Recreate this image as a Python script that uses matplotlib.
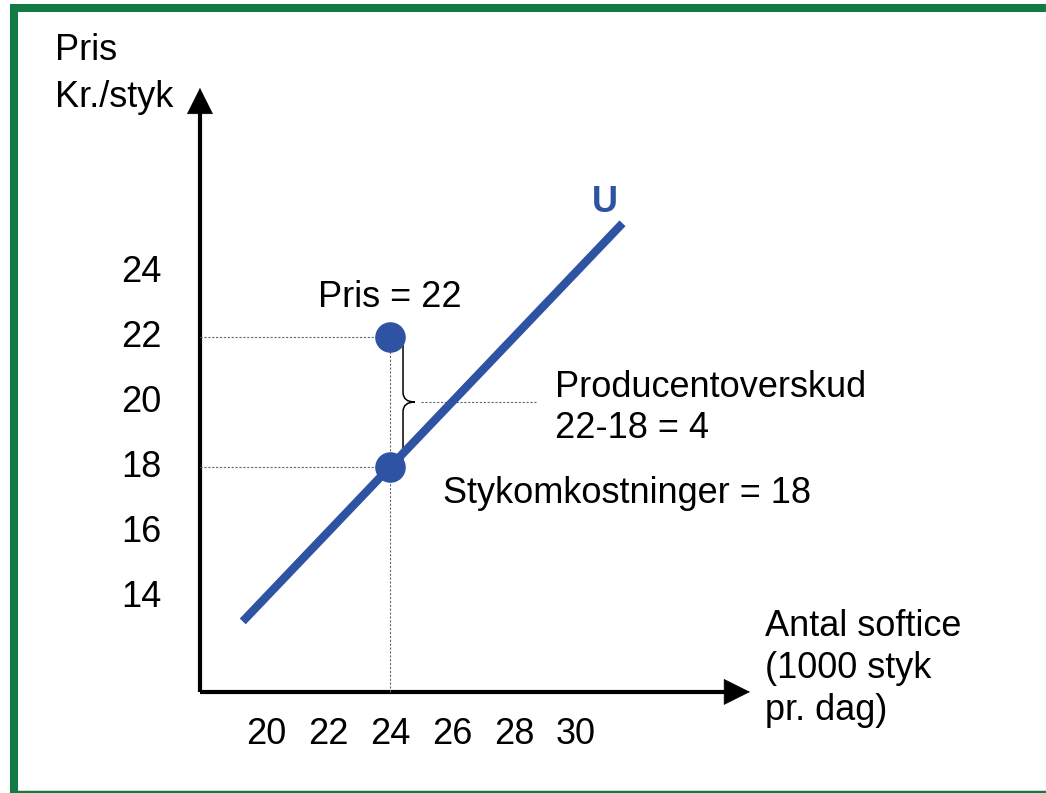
"""Producer surplus sketch: unit cost line U, price 22 vs. unit cost 18."""

import matplotlib

matplotlib.use("Agg")
import matplotlib.pyplot as plt  # noqa: E402
import numpy as np  # noqa: E402
from matplotlib.lines import Line2D  # noqa: E402
from matplotlib.path import Path as MPath  # noqa: E402
from matplotlib.patches import PathPatch  # noqa: E402
from matplotlib.transforms import offset_copy  # noqa: E402

plt.rcParams["font.family"] = ["Liberation Sans", "DejaVu Sans"]

# data
x_ticks = [20, 22, 24, 26, 28, 30]
y_ticks = [14, 16, 18, 20, 22, 24]
u_x = [19.25, 31.5]          # unit cost line U: y = x - 6
u_intercept = -6
quantity = 24
price = 22
unit_cost = 18
surplus_label = ["Producentoverskud", f"{price}-{unit_cost} = {price - unit_cost}"]
x_label = ["Antal softice", "(1000 styk", "pr. dag)"]
y_label = ["Pris", "Kr./styk"]

BLUE = "#2f53a3"
GREEN = "#117a45"
FS = 26

fig = plt.figure(figsize=(10.46, 7.93), dpi=100)
ax = fig.add_axes([0, 0, 1, 1])
ax.set_xlim(11.42, 45.16)
ax.set_ylim(7.97, 32.37)
ax.set_axis_off()

# axes arrows
x0, y0 = 17.87, 11.08
ax.plot([x0, x0], [y0, 29.0], color="black", lw=3, solid_capstyle="butt")
ax.plot([x0, 35.0], [y0, y0], color="black", lw=3, solid_capstyle="butt")
for tip, start in (((x0, 29.75), (x0, 28.5)), ((35.7, y0), (34.6, y0))):
    ax.annotate("", xy=tip, xytext=start,
                arrowprops=dict(arrowstyle="-|>,head_length=0.9,head_width=0.45",
                                color="black", lw=0.5, mutation_scale=20))

# guide lines
dot = dict(color="#666666", lw=0.8, linestyle=(0, (2, 1.5)))
ax.plot([x0, quantity], [price, price], **dot)
ax.plot([x0, quantity], [unit_cost, unit_cost], **dot)
ax.plot([quantity, quantity], [y0, price], **dot)
ymid = (price + unit_cost) / 2
ax.plot([25.0, 28.7], [ymid, ymid], **dot)

# unit cost line
ux = np.array(u_x)
ax.plot(ux, ux + u_intercept, color=BLUE, lw=6, solid_capstyle="butt")
ax.plot([quantity, quantity], [price, unit_cost], "o", color=BLUE, ms=21)

# curly brace between price and unit cost
xa, xb, xc, r = quantity + 0.1, quantity + 0.42, quantity + 0.8, 0.3
verts = [(xa, price), (xb, price), (xb, price - r),
         (xb, ymid + r), (xb, ymid), (xc, ymid),
         (xb, ymid), (xb, ymid - r),
         (xb, unit_cost + r), (xb, unit_cost), (xa, unit_cost)]
codes = [MPath.MOVETO, MPath.CURVE3, MPath.CURVE3,
         MPath.LINETO, MPath.CURVE3, MPath.CURVE3,
         MPath.CURVE3, MPath.CURVE3,
         MPath.LINETO, MPath.CURVE3, MPath.CURVE3]
ax.add_patch(PathPatch(MPath(verts, codes), fill=False, lw=1.1, color="black"))

# tick labels
ylab_tr = offset_copy(ax.transData, fig=fig, x=-42, y=0, units="points")
for v in y_ticks:
    ax.text(x0, v, str(v), transform=ylab_tr, ha="center", va="center", fontsize=FS)
xlab_tr = offset_copy(ax.transData, fig=fig, x=0, y=-31, units="points")
for v in x_ticks:
    ax.text(v, y0, str(v), transform=xlab_tr, ha="center", va="center", fontsize=FS)

# annotations
ax.text(13.19, 30.83, y_label[0], ha="left", va="center", fontsize=FS)
ax.text(13.19, 29.38, y_label[1], ha="left", va="center", fontsize=FS)
for i, s in enumerate(x_label):
    ax.text(36.1, 13.08 - i * 1.28, s, ha="left", va="center", fontsize=FS)
ax.text(30.94, 26.15, "U", ha="center", va="center", fontsize=FS, color=BLUE, fontweight="bold")
ax.text(quantity, 23.23, f"Pris = {price}", ha="center", va="center", fontsize=FS)
ax.text(29.32, 20.46, surplus_label[0], ha="left", va="center", fontsize=FS)
ax.text(29.32, 19.2, surplus_label[1], ha="left", va="center", fontsize=FS)
ax.text(25.71, 17.17, f"Stykomkostninger = {unit_cost}", ha="left", va="center", fontsize=FS)

# green frame (left, top, bottom)
fw = 5.8
fig.add_artist(Line2D([14 / 1046, 14 / 1046], [0, 1 - 4 / 793], color=GREEN, lw=fw,
                      transform=fig.transFigure, solid_capstyle="butt"))
fig.add_artist(Line2D([10 / 1046, 1], [1 - 8 / 793, 1 - 8 / 793], color=GREEN, lw=fw,
                      transform=fig.transFigure, solid_capstyle="butt"))
fig.add_artist(Line2D([10 / 1046, 1], [1.5 / 793, 1.5 / 793], color=GREEN, lw=2.5,
                      transform=fig.transFigure, solid_capstyle="butt"))

fig.savefig("out.png", dpi=100)
plt.close(fig)
